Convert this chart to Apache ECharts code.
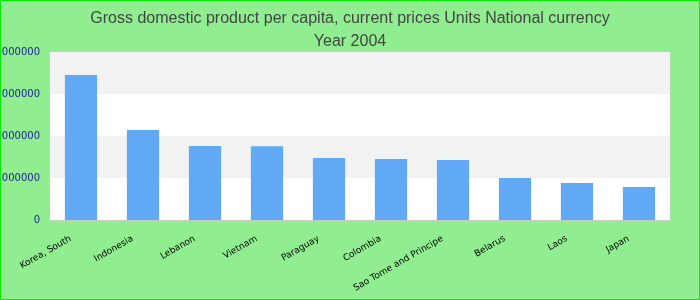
<!DOCTYPE html>
<html>
<head>
<meta charset="utf-8">
<script src="https://cdn.jsdelivr.net/npm/echarts@6/dist/echarts.min.js"></script>
<style>
html,body{margin:0;padding:0;background:#90ee90;}
#c{width:700px;height:300px;}
</style>
</head>
<body>
<div id="c"></div>
<script>
const titleText = 'Gross domestic product per capita, current prices Units National currency\nYear 2004';
const categories = ['Korea, South','Indonesia','Lebanon','Vietnam','Paraguay','Colombia','Sao Tome and Principe','Belarus','Laos','Japan'];
const values = [17250000, 10700000, 8800000, 8780000, 7380000, 7260000, 7140000, 5000000, 4400000, 3930000];
const yMin = 0, yMax = 20000000, yInterval = 5000000;

const chart = echarts.init(document.getElementById('c'), null, {renderer:'canvas'});
chart.setOption({
  backgroundColor: '#90ee90',
  animation: false,
  title: {
    text: titleText,
    left: 'center',
    top: 2,
    textStyle: {fontFamily: 'Liberation Sans, Arial, sans-serif', fontSize: 16, fontWeight: 'normal', color: '#444444', lineHeight: 23}
  },
  graphic: [{
    type: 'rect', silent: true, z: 100,
    shape: {x: 0.5, y: 0.5, width: 699, height: 299},
    style: {fill: 'none', stroke: '#00ee00', lineWidth: 1}
  }],
  grid: {left: 50, right: 30, top: 52, bottom: 80, containLabel: false, outerBoundsMode: 'none', show: true, borderColor: '#cccccc', borderWidth: 1, backgroundColor: 'transparent'},
  xAxis: {
    type: 'category',
    data: categories,
    axisLine: {show: true, lineStyle: {color: '#cccccc'}},
    axisTick: {show: false},
    axisLabel: {rotate: 30, interval: 0, color: '#000000', fontSize: 9, fontFamily: 'DejaVu Sans, Verdana, sans-serif', margin: 12, padding: [0, 12, 0, 0]}
  },
  yAxis: {
    type: 'value',
    min: yMin, max: yMax, interval: yInterval,
    axisLine: {show: false},
    axisTick: {show: false},
    splitLine: {show: false},
    splitArea: {show: true, areaStyle: {color: ['#ffffff', '#f2f2f2']}},
    axisLabel: {color: '#1c1c9c', fontSize: 10, fontFamily: 'DejaVu Sans, Verdana, sans-serif', margin: 10, formatter: v => String(v)}
  },
  series: [{
    type: 'bar',
    data: values,
    barWidth: '52%',
    itemStyle: {color: '#61a8f5'}
  }]
});
</script>
</body>
</html>
